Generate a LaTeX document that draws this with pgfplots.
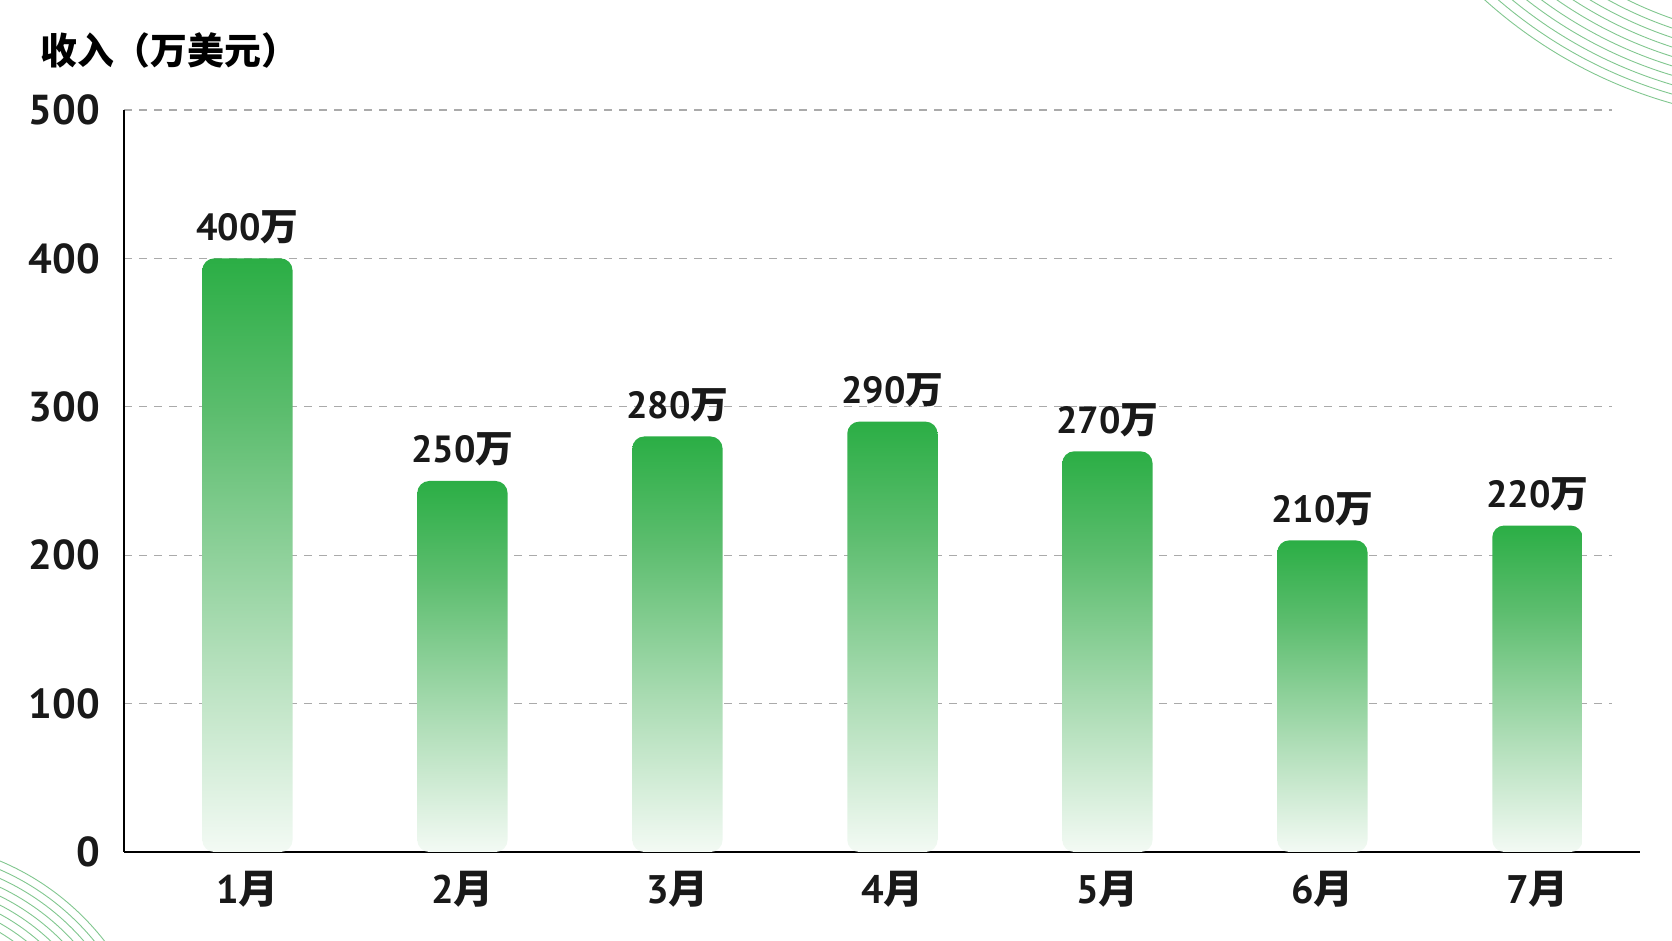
\documentclass[border=0pt]{standalone}
\usepackage{pgfplots}
\pgfplotsset{compat=1.18}
\usepackage{fontspec}
\setmainfont{PT Sans}
\newfontfamily\cjk{Noto Sans CJK SC}
\definecolor{gTop}{HTML}{2BAE45}
\definecolor{gMid}{HTML}{5CBD6E}
\definecolor{gLow}{HTML}{B0DEB8}
\definecolor{gBot}{HTML}{F3FAF4}
\definecolor{gridc}{HTML}{AAAAAA}
\definecolor{arcc}{HTML}{4CAF60}
\pgfdeclareverticalshading{barshade}{100bp}{color(0bp)=(gBot); color(25bp)=(gBot); color(42bp)=(gLow); color(62bp)=(gMid); color(75bp)=(gTop); color(100bp)=(gTop)}
\pgfplotsset{mybar/.style={draw=none, shade, shading=barshade, rounded corners=12bp, bar shift=0pt}}
\begin{document}
\begin{tikzpicture}
\useasboundingbox (0,0) rectangle (1672bp,941bp);
\begin{scope}
\clip (0,0) rectangle (1672bp,941bp);
\foreach \r in {390,399,408,417,426,435,444,453,462,471}
  \draw[arcc, opacity=0.7, line width=0.9bp] (1800bp,1291bp) circle (\r bp);
\foreach \r in {195,203,211,219,227,235,243,251,259}
  \draw[arcc, opacity=0.7, line width=0.9bp] (-100bp,-159bp) circle (\r bp);
\end{scope}
\node[anchor=west, inner sep=0pt, font=\cjk\bfseries\fontsize{37}{37}\selectfont] at (40bp,941bp-50bp) {收入（万美元）};
\begin{axis}[
  at={(124bp,89bp)}, anchor=south west,
  scale only axis, width=1488bp, height=742bp,
  xmin=-0.574, xmax=6.347, ymin=0, ymax=500,
  ybar, bar width=0.42,
  axis x line=bottom, axis y line=left,
  x axis line style={-, line width=2.5bp, black, shorten >=-28bp},
  y axis line style={-, line width=2.5bp, black},
  xtick={0,...,6},
  xticklabels={{1\cjk 月},{2\cjk 月},{3\cjk 月},{4\cjk 月},{5\cjk 月},{6\cjk 月},{7\cjk 月}},
  ytick={0,100,...,500},
  major tick length=0pt,
  ymajorgrids,
  grid style={gridc, line width=1.3bp, dash pattern=on 8bp off 7bp},
  /pgf/number format/assume math mode=true,
  yticklabel style={font=\bfseries\fontsize{42}{42}\selectfont, text=black!90, anchor=east, inner sep=0pt, xshift=-24bp},
  xticklabel style={font=\bfseries\fontsize{40}{40}\selectfont, text=black!90, anchor=base, inner sep=0pt, yshift=-51bp},
  nodes near coords={\pgfmathprintnumber{\pgfplotspointmeta}{\cjk 万}},
  every node near coord/.append style={anchor=base, inner sep=0pt, yshift=18bp, font=\bfseries\fontsize{38}{38}\selectfont, text=black!90},
]
\addplot[mybar] coordinates {(0,400)};
\addplot[mybar] coordinates {(1,250)};
\addplot[mybar] coordinates {(2,280)};
\addplot[mybar] coordinates {(3,290)};
\addplot[mybar] coordinates {(4,270)};
\addplot[mybar] coordinates {(5,210)};
\addplot[mybar] coordinates {(6,220)};
\end{axis}
\end{tikzpicture}
\end{document}
